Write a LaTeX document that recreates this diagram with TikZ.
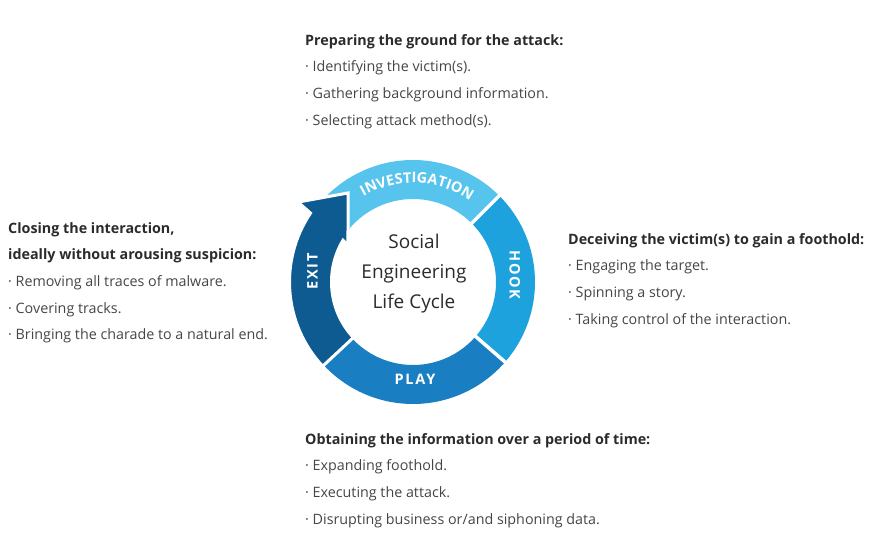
\documentclass[tikz,border=0pt]{standalone}
\usepackage{fontspec}
\setmainfont{Open Sans}
\newfontfamily\ringfont[LetterSpace=12]{Open Sans}
\usetikzlibrary{positioning, decorations.text}

\definecolor{invblue}{HTML}{57C4EE}
\definecolor{hookblue}{HTML}{1EA2DD}
\definecolor{playblue}{HTML}{1A7EC3}
\definecolor{exitblue}{HTML}{0E5B92}
\definecolor{headgray}{HTML}{2B2B2B}
\definecolor{textgray}{HTML}{454545}

\begin{document}
\begin{tikzpicture}[x=1pt, y=1pt,
    block/.style={align=left, anchor=north west, inner sep=0pt,
                  text=textgray, font=\fontsize{14.3}{26.7}\selectfont},
    ringlabel/.style={inner sep=0pt, text=white,
                      font=\ringfont\bfseries\fontsize{14.5}{14.5}\selectfont}]
  \useasboundingbox (0,0) rectangle (872,-537);
  \coordinate (ctr) at (413,-282);

  % the ring
  \begin{scope}[shift={(ctr)}]
    \fill[invblue] (45:122) arc[start angle=45, end angle=145, radius=122]
      -- (145:83) arc[start angle=145, end angle=45, radius=83] -- cycle;
    \fill[hookblue] (-41:122) arc[start angle=-41, end angle=45, radius=122]
      -- (45:83) arc[start angle=45, end angle=-41, radius=83] -- cycle;
    \fill[playblue] (-137:122) arc[start angle=-137, end angle=-41, radius=122]
      -- (-41:83) arc[start angle=-41, end angle=-137, radius=83] -- cycle;
    \draw[white, line width=3.5pt] (45:80) -- (45:126);
    \draw[white, line width=3.5pt] (-41:80) -- (-41:126);
    \filldraw[fill=exitblue, draw=white, line width=3pt, line join=miter]
      (-137:123.5) arc[start angle=-137, end angle=-213.9, radius=123.5]
      -- (145.2:140) -- (126.1:110.2) -- (150.4:74.8)
      -- (-210.8:81.5) arc[start angle=-210.8, end angle=-137, radius=81.5]
      -- cycle;

    \path[decorate, decoration={text along path, text align=center,
        text color=white,
        text={|\ringfont\bfseries\fontsize{14.5}{14.5}\selectfont|INVESTIGATION}}]
      (135:99) arc[start angle=135, end angle=40, radius=99];
    \node[ringlabel, rotate=-90] (hooklbl) at (4:102) {HOOK};
    \node[ringlabel] (playlbl) at (2,-97) {PLAY};
    \node[ringlabel, rotate=90] (exitlbl) at (174:101) {EXIT};
  \end{scope}

  \node[align=center, inner sep=0pt, text=headgray,
        font=\fontsize{19}{30}\selectfont] (title) at (414,-274)
    {Social\\Engineering\\Life Cycle};

  % the four phases
  \node[block] (prep) at (305,-34)
    {{\bfseries\color{headgray}Preparing the ground for the attack:}\\
     · Identifying the victim(s).\\
     · Gathering background information.\\
     · Selecting attack method(s).};
  \node[block] (deceive) at (568,-233)
    {{\bfseries\color{headgray}Deceiving the victim(s) to gain a foothold:}\\
     · Engaging the target.\\
     · Spinning a story.\\
     · Taking control of the interaction.};
  \node[block] (obtain) at (305,-433)
    {{\bfseries\color{headgray}Obtaining the information over a period of time:}\\
     · Expanding foothold.\\
     · Executing the attack.\\
     · Disrupting business or/and siphoning data.};
  \node[block] (closing) at (8,-222)
    {{\bfseries\color{headgray}Closing the interaction,}\\
     {\bfseries\color{headgray}ideally without arousing suspicion:}\\
     · Removing all traces of malware.\\
     · Covering tracks.\\
     · Bringing the charade to a natural end.};
\end{tikzpicture}
\end{document}
